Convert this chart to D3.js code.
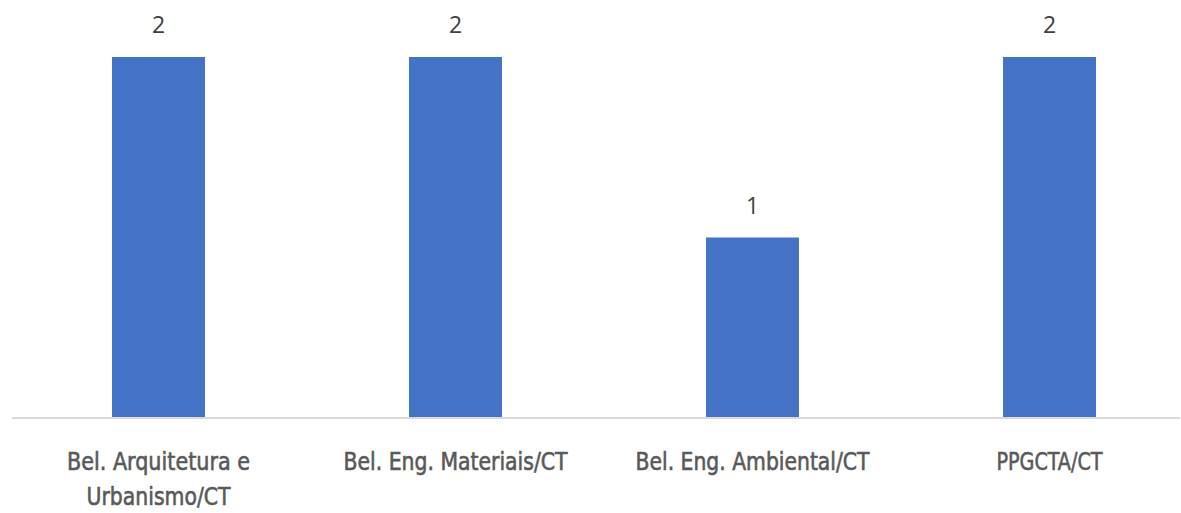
<!DOCTYPE html>
<html>
<head>
<meta charset="utf-8">
<script src="https://cdn.jsdelivr.net/npm/d3@7"></script>
<style>
  html, body { margin: 0; padding: 0; background: #ffffff; }
  svg { display: block; }
</style>
</head>
<body>
<div id="chart"></div>
<script>
const categories = [
  ["Bel. Arquitetura e", "Urbanismo/CT"],
  ["Bel. Eng. Materiais/CT"],
  ["Bel. Eng. Ambiental/CT"],
  ["PPGCTA/CT"]
];
const values = [2, 2, 1, 2];
const labelWidths = [[183, 144], [224], [234], [106]];

const W = 1181, H = 513;
const svg = d3.select("#chart").append("svg").attr("width", W).attr("height", H);

const keys = categories.map((c, i) => i);
const x = d3.scaleBand().domain(keys).range([10, 1198]).paddingInner(0.687).paddingOuter(0.3435);
const y = d3.scaleLinear().domain([0, 2]).range([418, 57]);

svg.selectAll("rect.bar").data(values).join("rect")
  .attr("class", "bar")
  .attr("x", (d, i) => x(i))
  .attr("width", x.bandwidth())
  .attr("y", d => y(d))
  .attr("height", d => y(0) - y(d))
  .attr("fill", "#4472c4");

svg.append("line")
  .attr("x1", 12).attr("x2", 1180)
  .attr("y1", y(0)).attr("y2", y(0))
  .attr("stroke", "#d9d9d9").attr("stroke-width", 2);

svg.selectAll("text.val").data(values).join("text")
  .attr("class", "val")
  .attr("x", (d, i) => x(i) + x.bandwidth() / 2)
  .attr("y", d => y(d) - 24)
  .attr("text-anchor", "middle")
  .attr("font-family", "Open Sans, Liberation Sans, Arial, sans-serif")
  .attr("font-size", 23)
  .attr("fill", "#404040")
  .text(d => d);

const g = svg.selectAll("g.cat").data(categories).join("g").attr("class", "cat");
g.each(function(lines, i) {
  const cx = x(i) + x.bandwidth() / 2;
  d3.select(this).selectAll("text").data(lines).join("text")
    .attr("x", cx)
    .attr("y", (d, j) => 470 + j * 35)
    .attr("text-anchor", "middle")
    .attr("font-family", "DejaVu Sans Condensed, DejaVu Sans, sans-serif")
    .attr("font-stretch", "condensed")
    .attr("font-size", 25.5)
    .attr("fill", "#595959")
    .attr("stroke", "#595959")
    .attr("stroke-width", 0.6)
    .attr("textLength", (d, j) => labelWidths[i][j])
    .attr("lengthAdjust", "spacingAndGlyphs")
    .text(d => d);
});
</script>
</body>
</html>
